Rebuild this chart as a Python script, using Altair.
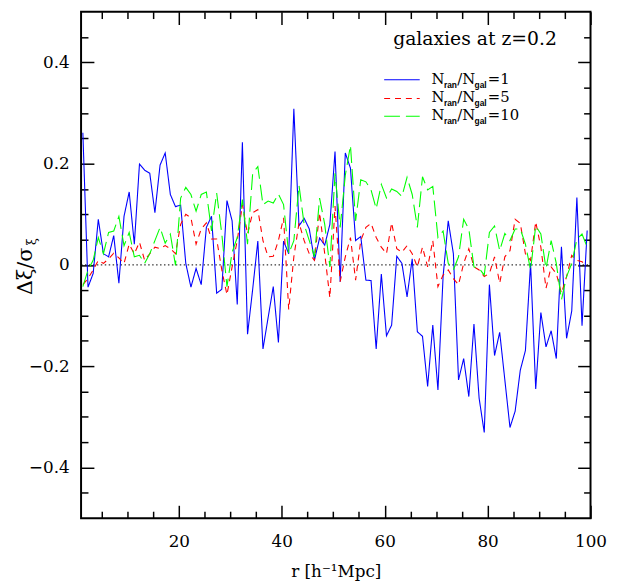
import altair as alt
import pandas as pd

# ---------------- data ----------------
r = [round(1.35 + i, 2) for i in range(99)]

blue = [0.261, -0.044, -0.017, 0.090, 0.022, 0.016, 0.058, -0.036, 0.096, 0.144,
        0.041, 0.199, 0.187, 0.181, 0.103, 0.197, 0.221, 0.139, 0.115, 0.118,
        0.003, -0.044, -0.007, -0.039, 0.074,
        0.096, -0.056, -0.048, 0.127, 0.087, -0.078, 0.242, -0.137, -0.048, 0.047,
        -0.166, -0.104, -0.043, -0.153, 0.047, 0.022, 0.308, 0.077, 0.092, 0.071,
        0.009, 0.053, 0.039, 0.080, 0.224,
        -0.033, 0.221, 0.191, 0.048, 0.056, -0.030, -0.031, -0.166, -0.018, -0.140,
        -0.119, 0.017, 0.003, -0.063, 0.012, -0.132, -0.141, -0.240, -0.119, -0.247,
        -0.023, 0.087, 0.022, -0.227, -0.185,
        -0.260, -0.117, -0.263, -0.331, -0.039, -0.179, -0.133, -0.227, -0.321, -0.289,
        -0.208, -0.169, 0.003, -0.245, -0.094, -0.162, -0.130, -0.185, 0.036, -0.145,
        -0.091, 0.133, -0.120, 0.068]

red = [-0.039, -0.027, -0.010, 0.009, 0.003, 0.012, 0.023, 0.014, 0.003, 0.041,
       0.022, 0.045, 0.009, 0.022, 0.035, 0.032, 0.038, 0.032, 0.022, 0.080,
       0.100, 0.093, 0.041, 0.071, 0.083,
       0.051, 0.051, -0.010, -0.059, -0.004, 0.048, 0.119, 0.061, 0.103, 0.109,
       0.048, 0.016, 0.017, 0.048, 0.093, -0.088, 0.016, 0.083, 0.048, 0.022,
       0.009, 0.103, 0.022, -0.065, 0.116,
       -0.033, 0.016, 0.054, -0.030, 0.048, 0.074, 0.082, 0.054, 0.035, 0.022,
       0.083, 0.032, 0.025, 0.038, 0.022, -0.004, 0.035, -0.004, 0.048, -0.043,
       -0.020, -0.010, -0.027, -0.039, 0.003,
       0.032, -0.004, -0.010, -0.023, -0.017, 0.016, -0.036, 0.016, 0.028, 0.090,
       0.082, 0.022, 0.009, 0.085, 0.035, -0.046, -0.004, -0.017, -0.056, -0.023,
       0.019, 0.009, 0.006, -0.001]

green = [-0.043, -0.010, 0.009, 0.054, 0.022, 0.064, 0.067, 0.096, 0.038, 0.064,
         0.016, 0.019, 0.003, 0.022, 0.048, 0.074, 0.043, 0.061, -0.001, 0.132,
         0.153, 0.139, 0.106, 0.139, 0.144,
         0.067, 0.142, 0.061, -0.043, 0.025, 0.054, 0.129, 0.041, 0.181, 0.194,
         0.119, 0.126, 0.122, 0.140, 0.119, 0.022, 0.048, 0.157, 0.080, 0.048,
         0.016, 0.132, 0.080, -0.004, 0.181,
         0.074, 0.177, 0.236, 0.087, 0.168, 0.164, 0.148, 0.111, 0.159, 0.132,
         0.150, 0.145, 0.135, 0.173, 0.139, 0.074, 0.174, 0.148, 0.155, 0.054,
         0.067, 0.003, -0.010, 0.016, 0.090,
         0.071, -0.004, -0.007, -0.020, 0.064, 0.077, 0.028, 0.062, 0.048, 0.071,
         0.071, 0.041, -0.010, 0.077, 0.061, -0.007, 0.048, 0.003, -0.069, -0.023,
         0.003, 0.051, 0.061, 0.035]

series = ["1", "5", "10"]
colors = ["#0000ff", "#ff0000", "#00ff00"]
dashes = [[1, 0], [6, 5], [16, 6]]

x_major = [20, 40, 60, 80, 100]
x_minor = [5, 10, 15, 25, 30, 35, 45, 50, 55, 65, 70, 75, 85, 90, 95]
y_major = [-0.4, -0.2, 0.0, 0.2, 0.4]
y_minor = [-0.45, -0.35, -0.3, -0.25, -0.15, -0.1, -0.05,
           0.05, 0.1, 0.15, 0.25, 0.3, 0.35, 0.45]

# ---------------- layout ----------------
W, H = 516, 513
XD, YD = (1, 100), (-0.5, 0.5)
SERIF = "DejaVu Serif"

x_ticks = sorted(x_major + x_minor)
y_ticks = sorted(y_major + y_minor)
x_is_major = "datum.value % 20 === 0"
y_is_major = "abs(datum.value * 5 - round(datum.value * 5)) < 1e-6"
# inward ticks: major 13 px, minor 7 px
x_tick_size = {"expr": f"({x_is_major}) ? -13 : -7"}
y_tick_size = {"expr": f"({y_is_major}) ? -13 : -7"}

xscale = alt.Scale(domain=list(XD), nice=False, zero=False)
yscale = alt.Scale(domain=list(YD), nice=False, zero=False)

common = dict(domain=False, grid=False, ticks=True, tickColor="black", tickWidth=1.5,
              labelOverlap=False, labelFlush=False)

x_bottom = alt.Axis(orient="bottom", values=x_ticks, tickSize=x_tick_size,
                    labelExpr=f"({x_is_major}) ? datum.label : ''",
                    labelFont=SERIF, labelFontSize=17, labelColor="black",
                    labelPadding=29, format="d",
                    title="r [h\u207b\u00b9Mpc]", titleFont=SERIF, titleFontSize=17,
                    titleFontWeight="normal", titleColor="black", titlePadding=8,
                    **common)
y_left = alt.Axis(orient="left", values=y_ticks, tickSize=y_tick_size,
                  labelExpr=f"({y_is_major}) ? datum.label : ''",
                  labelFont=SERIF, labelFontSize=17, labelColor="black",
                  labelPadding=25, format="~g", title=None, **common)
x_top = alt.Axis(orient="top", values=x_ticks, tickSize=x_tick_size,
                 labels=False, title=None, **common)
y_right = alt.Axis(orient="right", values=y_ticks, tickSize=y_tick_size,
                   labels=False, title=None, **common)

rows = []
for name, vals in zip(series, [blue, red, green]):
    for i, (rr, v) in enumerate(zip(r, vals)):
        rows.append({"r": rr, "v": v, "s": name, "o": i})
rows.append({"r": XD[0], "v": 0.0, "s": "zero", "o": 0})
rows.append({"r": XD[1], "v": 0.0, "s": "zero", "o": 1})
df = pd.DataFrame(rows)

base = alt.Chart(df)

# dotted zero line; this layer carries the mirrored (top / right) tick axes
zero = base.transform_filter(alt.datum.s == "zero").mark_line(
    color="black", strokeWidth=1, strokeDash=[1.5, 2.5]).encode(
    x=alt.X("r:Q", scale=xscale, axis=x_top),
    y=alt.Y("v:Q", scale=yscale, axis=y_right),
    order="o:Q")

lines = base.transform_filter(alt.FieldOneOfPredicate(field="s", oneOf=series)).mark_line(
    clip=True, strokeWidth=1.1).encode(
    x=alt.X("r:Q", scale=xscale, axis=x_bottom),
    y=alt.Y("v:Q", scale=yscale, axis=y_left),
    color=alt.Color("s:N", scale=alt.Scale(domain=series, range=colors), legend=None),
    strokeDash=alt.StrokeDash("s:N", scale=alt.Scale(domain=series, range=dashes), legend=None),
    order=alt.Order("o:Q"),
)

layers = [zero, lines]

one = pd.DataFrame({"a": [0]})

# title inside plot
layers.append(alt.Chart(one).mark_text(
    text="galaxies at z=0.2", font=SERIF, fontSize=19, color="black",
    align="center", baseline="alphabetic").encode(x=alt.value(399), y=alt.value(34)))

# legend
leg_line_y = [69, 88, 106]
leg_base_y = [73, 92, 110]
for name, col, dash, ly, by in zip(series, colors, dashes, leg_line_y, leg_base_y):
    layers.append(alt.Chart(one).mark_rule(color=col, strokeWidth=1.1, strokeDash=dash).encode(
        x=alt.value(307), x2=alt.value(343), y=alt.value(ly)))
    pieces = [("N", 355, 0, 15, SERIF, "normal"),
              ("ran", 367.5, 4, 8.5, "Liberation Sans", "bold"),
              ("/", 381, 0, 15, SERIF, "normal"),
              ("N", 386, 0, 15, SERIF, "normal"),
              ("gal", 398.5, 4, 8.5, "Liberation Sans", "bold"),
              ("=" + name, 412, 0, 15, SERIF, "normal")]
    for txt, px, dy, fs, fnt, fw in pieces:
        layers.append(alt.Chart(one).mark_text(
            text=txt, font=fnt, fontSize=fs, fontWeight=fw, color="black",
            align="left", baseline="alphabetic").encode(
            x=alt.value(px), y=alt.value(by + dy)))

# y-axis title  Δξ/σ_ξ (rotated, reads bottom to top)
layers.append(alt.Chart(one).mark_text(
    text="\u0394\u03be/\u03c3", font=SERIF, fontSize=21, color="black", angle=270,
    align="center", baseline="alphabetic").encode(x=alt.value(-50), y=alt.value(263)))
layers.append(alt.Chart(one).mark_text(
    text="\u03be", font=SERIF, fontSize=13, color="black", angle=270,
    align="center", baseline="alphabetic").encode(x=alt.value(-46), y=alt.value(233)))

chart = alt.layer(*layers).resolve_axis(x="independent", y="independent").properties(
    width=W, height=H,
    padding={"left": 74, "top": 0, "right": 41, "bottom": 62},
    autosize="none",
).configure_view(stroke="black", strokeWidth=2)

chart.save("out.html", embed_options={"renderer": "svg", "actions": False})
